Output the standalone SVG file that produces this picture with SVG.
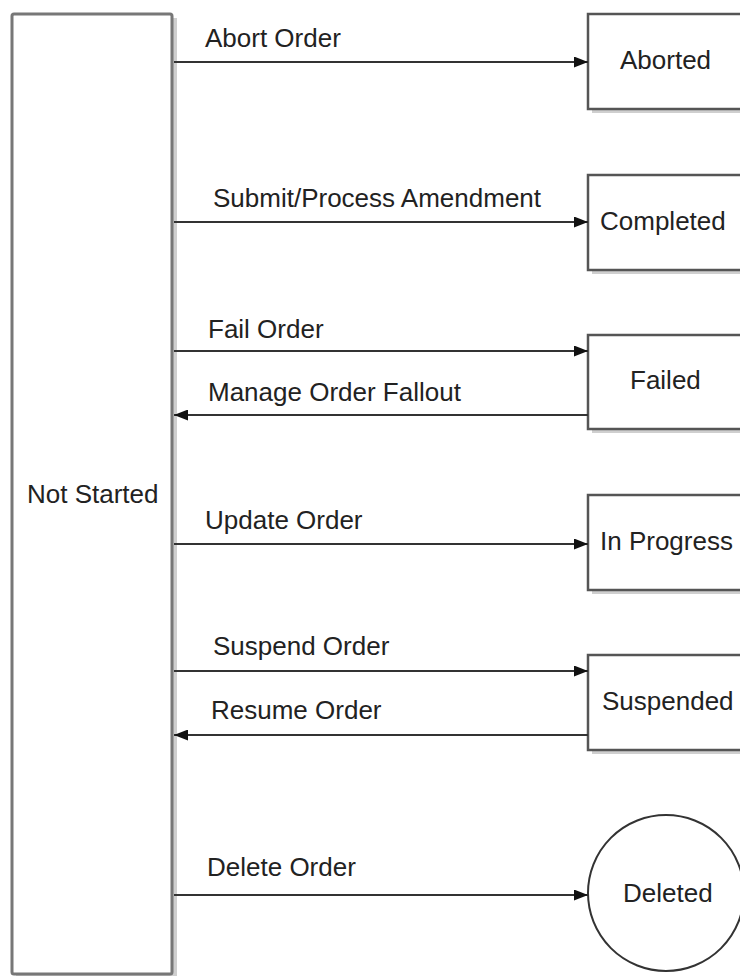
<svg xmlns="http://www.w3.org/2000/svg" width="740" height="976" viewBox="0 0 740 976">
<style>
.t{font-family:"Liberation Sans",Arial,sans-serif;font-size:26px;fill:#222;}
.box{fill:#fff;stroke:#555;stroke-width:2.5;}
.big{fill:#fff;stroke:#777;stroke-width:3;}
.sh{fill:#cfcfcf;}
.c{stroke:#333;stroke-width:2;fill:none;}
</style>
<defs>
<marker id="ah" viewBox="0 0 14 11" refX="14" refY="5.5" markerWidth="14" markerHeight="11" markerUnits="userSpaceOnUse" orient="auto">
<path d="M0,0 L14,5.5 L0,11 Z" fill="#111"/>
</marker>
</defs>
<g id="not-started">
<rect class="sh" x="16" y="18" width="161" height="960"/>
<rect class="big" x="12" y="14" width="160" height="960" rx="2"/>
<text class="t" x="27" y="503">Not Started</text>
</g>
<g id="aborted">
<rect class="sh" x="592" y="18" width="170" height="95"/>
<rect class="box" x="588" y="14" width="170" height="95"/>
<text class="t" x="620" y="69">Aborted</text>
</g>
<g id="completed">
<rect class="sh" x="592" y="179" width="170" height="95"/>
<rect class="box" x="588" y="175" width="170" height="95"/>
<text class="t" x="600" y="230">Completed</text>
</g>
<g id="failed">
<rect class="sh" x="592" y="339" width="170" height="94"/>
<rect class="box" x="588" y="335" width="170" height="94"/>
<text class="t" x="630" y="389">Failed</text>
</g>
<g id="in-progress">
<rect class="sh" x="592" y="499" width="170" height="95"/>
<rect class="box" x="588" y="495" width="170" height="95"/>
<text class="t" x="600" y="550">In Progress</text>
</g>
<g id="suspended">
<rect class="sh" x="592" y="659" width="170" height="95"/>
<rect class="box" x="588" y="655" width="170" height="95"/>
<text class="t" x="602" y="710">Suspended</text>
</g>
<g id="deleted">
<circle cx="666" cy="893" r="78" fill="#fff" stroke="#333" stroke-width="2"/>
<text class="t" x="623" y="902">Deleted</text>
</g>
<g id="connectors">
<line class="c" x1="174" y1="62" x2="588" y2="62" marker-end="url(#ah)"/>
<line class="c" x1="174" y1="222" x2="588" y2="222" marker-end="url(#ah)"/>
<line class="c" x1="174" y1="351" x2="588" y2="351" marker-end="url(#ah)"/>
<line class="c" x1="588" y1="415" x2="174" y2="415" marker-end="url(#ah)"/>
<line class="c" x1="174" y1="544" x2="588" y2="544" marker-end="url(#ah)"/>
<line class="c" x1="174" y1="671" x2="588" y2="671" marker-end="url(#ah)"/>
<line class="c" x1="588" y1="735" x2="174" y2="735" marker-end="url(#ah)"/>
<line class="c" x1="174" y1="895" x2="588" y2="895" marker-end="url(#ah)"/>
<text class="t" x="205" y="47">Abort Order</text>
<text class="t" x="213" y="207">Submit/Process Amendment</text>
<text class="t" x="208" y="338">Fail Order</text>
<text class="t" x="208" y="401">Manage Order Fallout</text>
<text class="t" x="205" y="529">Update Order</text>
<text class="t" x="213" y="655">Suspend Order</text>
<text class="t" x="211" y="719">Resume Order</text>
<text class="t" x="207" y="876">Delete Order</text>
</g>
</svg>
